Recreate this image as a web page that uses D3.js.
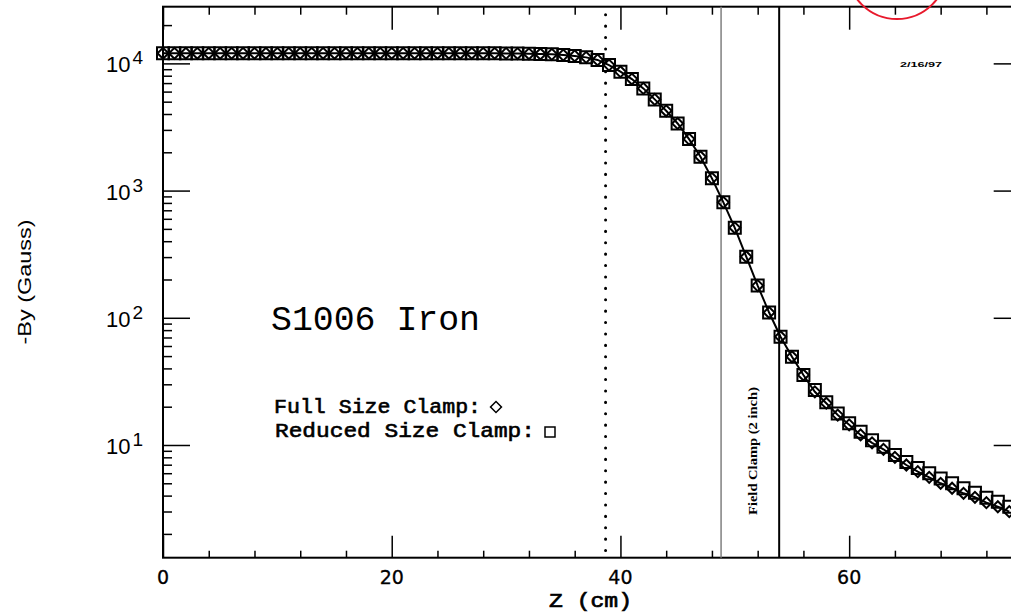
<!DOCTYPE html>
<html>
<head>
<meta charset="utf-8">
<script src="https://cdn.jsdelivr.net/npm/d3@7/dist/d3.min.js"></script>
<style>
  body { margin: 0; background: #fff; }
  svg { display: block; overflow: hidden; }
</style>
</head>
<body>
<svg width="1011" height="614"></svg>
<script>
// Z positions (cm)
var zValues = [0, 1, 2, 3, 4, 5, 6, 7, 8, 9, 10, 11, 12, 13, 14, 15, 16, 17, 18, 19,
    20, 21, 22, 23, 24, 25, 26, 27, 28, 29, 30, 31, 32, 33, 34, 35, 36, 37, 38, 39,
    40, 41, 42, 43, 44, 45, 46, 47, 48, 49, 50, 51, 52, 53, 54, 55, 56, 57, 58, 59,
    60, 61, 62, 63, 64, 65, 66, 67, 68, 69, 70, 71, 72, 73, 74]

// -By (Gauss), full size clamp (diamonds)
var fullClamp = [12000, 12000, 12000, 12000, 12000, 12000, 12000, 12000, 12000, 12000,
    12000, 12000, 12000, 12000, 12000, 12000, 12000, 12000, 12000, 12000,
    12000, 12000, 12000, 12000, 12000, 12000, 12000, 12000, 12000, 12000,
    11980, 11950, 11900, 11850, 11780, 11620, 11450, 11150, 10650, 9700,
    8600, 7530, 6360, 5210, 4240, 3370, 2540, 1845, 1248, 808,
    510, 302, 179, 110, 71, 49.4, 35.5, 26.2, 21.3, 17.2,
    14.4, 12.0, 10.4, 9.25, 8.0, 6.96, 6.17, 5.57, 5.0, 4.57,
    4.17, 3.88, 3.52, 3.27, 2.99]

// -By (Gauss), reduced size clamp (squares)
var reducedClamp = [12000, 12000, 12000, 12000, 12000, 12000, 12000, 12000, 12000, 12000,
    12000, 12000, 12000, 12000, 12000, 12000, 12000, 12000, 12000, 12000,
    12000, 12000, 12000, 12000, 12000, 12000, 12000, 12000, 12000, 12000,
    11980, 11950, 11900, 11850, 11780, 11620, 11450, 11150, 10650, 9700,
    8600, 7530, 6360, 5210, 4240, 3370, 2540, 1845, 1248, 808,
    510, 302, 179, 110, 71, 49.4, 35.5, 27.0, 21.7, 17.7,
    14.8, 12.7, 10.9, 9.7, 8.34, 7.35, 6.6, 6.0, 5.45, 5.0,
    4.57, 4.22, 3.85, 3.58, 3.27]

var xMajorTicks = [0, 20, 40, 60]
var xTickLabels = ['0', '20', '40', '60']
var xMinorTicks = [4, 8, 12, 16, 24, 28, 32, 36, 44, 48, 52, 56, 64, 68, 72]
var yMajorTicks = [10, 100, 1000, 10000]
var yTickExponents = ['1', '2', '3', '4']
var yMinorTicks = [2, 3, 4, 5, 6, 7, 8, 9, 20, 30, 40, 50, 60, 70, 80, 90,
    200, 300, 400, 500, 600, 700, 800, 900, 2000, 3000, 4000, 5000, 6000, 7000, 8000, 9000, 20000]

// reference lines: end of pole (dotted), field clamp (2 inch = 5.08 cm)
var poleEdge = 38.7
var clampStart = 48.8
var clampEnd = 53.88

var svg = d3.select('svg')
var plotW = 857.7
var plotH = 551
var g = svg.append('g')
           .attr('transform', 'translate(163,6.7)')

var xScale = d3.scaleLinear()
               .domain([0, 75])
               .range([0, plotW])
var yScale = d3.scaleLog()
               .domain([1.3, 27900])
               .range([plotH, 0])

// inward ticks on all four sides
function drawTicks(axis, tx, ty) {
    var a = g.append('g')
             .attr('transform', 'translate(' + tx + ',' + ty + ')')
             .call(axis)
    a.select('.domain').remove()
    a.selectAll('.tick line').attr('stroke', '#000').attr('stroke-width', 1.5)
    a.selectAll('.tick text').remove()
}
drawTicks(d3.axisBottom(xScale).tickValues(xMinorTicks).tickSize(-7), 0, plotH)
drawTicks(d3.axisBottom(xScale).tickValues(xMajorTicks).tickSize(-22), 0, plotH)
drawTicks(d3.axisTop(xScale).tickValues(xMinorTicks).tickSize(-8), 0, 0)
drawTicks(d3.axisTop(xScale).tickValues(xMajorTicks).tickSize(-23), 0, 0)
drawTicks(d3.axisLeft(yScale).tickValues(yMinorTicks).tickSize(-9), 0, 0)
drawTicks(d3.axisLeft(yScale).tickValues(yMajorTicks).tickSize(-27), 0, 0)
drawTicks(d3.axisRight(yScale).tickValues(yMinorTicks).tickSize(-9), plotW, 0)
drawTicks(d3.axisRight(yScale).tickValues(yMajorTicks).tickSize(-27), plotW, 0)

g.append('rect')
 .attr('width', plotW)
 .attr('height', plotH)
 .attr('fill', 'none')
 .attr('stroke', '#000')
 .attr('stroke-width', 2)

// tick labels
g.selectAll('.xlab')
 .data(xMajorTicks)
 .enter()
 .append('text')
 .attr('x', function (d) { return xScale(d) })
 .attr('y', plotH + 26)
 .attr('text-anchor', 'middle')
 .attr('font-family', 'DejaVu Sans')
 .attr('font-size', 19)
 .attr('stroke', '#000')
 .attr('stroke-width', 0.3)
 .text(function (d, i) { return xTickLabels[i] })

var ylab = g.selectAll('.ylab')
            .data(yMajorTicks)
            .enter()
            .append('text')
            .attr('x', -20)
            .attr('y', function (d) { return yScale(d) + 9 })
            .attr('text-anchor', 'end')
            .attr('font-family', 'Liberation Sans')
            .attr('font-size', 22)
ylab.append('tspan').text('10')
ylab.append('tspan')
    .attr('dx', 2)
    .attr('dy', -8)
    .attr('font-size', 19)
    .text(function (d, i) { return yTickExponents[i] })

// vertical reference lines
g.append('line')
 .attr('x1', xScale(poleEdge)).attr('x2', xScale(poleEdge))
 .attr('y1', 8).attr('y2', plotH)
 .attr('stroke', '#000')
 .attr('stroke-width', 3)
 .attr('stroke-linecap', 'round')
 .attr('stroke-dasharray', '0.1 11.3')
g.append('line')
 .attr('x1', xScale(clampStart)).attr('x2', xScale(clampStart))
 .attr('y1', 0).attr('y2', plotH)
 .attr('stroke', '#808080')
 .attr('stroke-width', 1.5)
g.append('line')
 .attr('x1', xScale(clampEnd)).attr('x2', xScale(clampEnd))
 .attr('y1', 0).attr('y2', plotH)
 .attr('stroke', '#000')
 .attr('stroke-width', 2)

// curve
var line = d3.line()
             .x(function (d, i) { return xScale(zValues[i]) })
             .y(function (d) { return yScale(d) })
g.append('path')
 .datum(fullClamp)
 .attr('d', line)
 .attr('fill', 'none')
 .attr('stroke', '#000')
 .attr('stroke-width', 2)

var square = d3.symbol().type(d3.symbolSquare).size(144)
var diamond = d3.symbol().type(d3.symbolSquare).size(60)

g.selectAll('.sq')
 .data(reducedClamp)
 .enter()
 .append('path')
 .attr('d', square)
 .attr('transform', function (d, i) {
     return 'translate(' + xScale(zValues[i]) + ',' + yScale(d) + ')'
 })
 .attr('fill', 'none')
 .attr('stroke', '#000')
 .attr('stroke-width', 2)

g.selectAll('.dm')
 .data(fullClamp)
 .enter()
 .append('path')
 .attr('d', diamond)
 .attr('transform', function (d, i) {
     return 'translate(' + xScale(zValues[i]) + ',' + yScale(d) + ') rotate(45)'
 })
 .attr('fill', 'none')
 .attr('stroke', '#000')
 .attr('stroke-width', 2)

// annotations (absolute page coords)
svg.append('text')
   .attr('x', 271).attr('y', 330)
   .attr('font-family', 'Liberation Mono')
   .attr('font-size', 35)
   .attr('textLength', 209)
   .attr('lengthAdjust', 'spacingAndGlyphs')
   .text('S1006 Iron')

svg.append('text')
   .attr('x', 274).attr('y', 413)
   .attr('font-family', 'Liberation Mono')
   .attr('font-size', 20)
   .attr('stroke', '#000')
   .attr('stroke-width', 0.6)
   .attr('textLength', 207)
   .attr('lengthAdjust', 'spacingAndGlyphs')
   .text('Full Size Clamp:')
svg.append('text')
   .attr('x', 275).attr('y', 437)
   .attr('font-family', 'Liberation Mono')
   .attr('font-size', 20)
   .attr('stroke', '#000')
   .attr('stroke-width', 0.6)
   .attr('textLength', 260)
   .attr('lengthAdjust', 'spacingAndGlyphs')
   .text('Reduced Size Clamp:')
svg.append('path')
   .attr('d', d3.symbol().type(d3.symbolSquare).size(60)())
   .attr('transform', 'translate(496,407) rotate(45)')
   .attr('fill', 'none')
   .attr('stroke', '#000')
   .attr('stroke-width', 1.5)
svg.append('path')
   .attr('d', d3.symbol().type(d3.symbolSquare).size(100)())
   .attr('transform', 'translate(550,432)')
   .attr('fill', 'none')
   .attr('stroke', '#000')
   .attr('stroke-width', 1.5)

svg.append('text')
   .attr('transform', 'translate(757,451) rotate(-90)')
   .attr('text-anchor', 'middle')
   .attr('font-family', 'Liberation Serif')
   .attr('font-weight', 'bold')
   .attr('font-size', 13)
   .attr('textLength', 128)
   .attr('lengthAdjust', 'spacingAndGlyphs')
   .text('Field Clamp (2 inch)')

svg.append('text')
   .attr('x', 900).attr('y', 67)
   .attr('font-family', 'Liberation Sans')
   .attr('font-weight', 'bold')
   .attr('font-size', 8)
   .attr('textLength', 42)
   .attr('lengthAdjust', 'spacingAndGlyphs')
   .text('2/16/97')

svg.append('text')
   .attr('x', 549).attr('y', 607)
   .attr('font-family', 'Liberation Mono')
   .attr('font-size', 21)
   .attr('stroke', '#000')
   .attr('stroke-width', 0.7)
   .attr('textLength', 83)
   .attr('lengthAdjust', 'spacingAndGlyphs')
   .text('Z (cm)')

svg.append('text')
   .attr('transform', 'translate(31,282) rotate(-90)')
   .attr('text-anchor', 'middle')
   .attr('font-family', 'Liberation Sans')
   .attr('font-size', 19)
   .attr('textLength', 125)
   .attr('lengthAdjust', 'spacingAndGlyphs')
   .text('-By (Gauss)')

// red marker circle at the top
svg.append('circle')
   .attr('cx', 897).attr('cy', -31)
   .attr('r', 50)
   .attr('fill', 'none')
   .attr('stroke', '#e8192c')
   .attr('stroke-width', 2)
</script>
</body>
</html>
